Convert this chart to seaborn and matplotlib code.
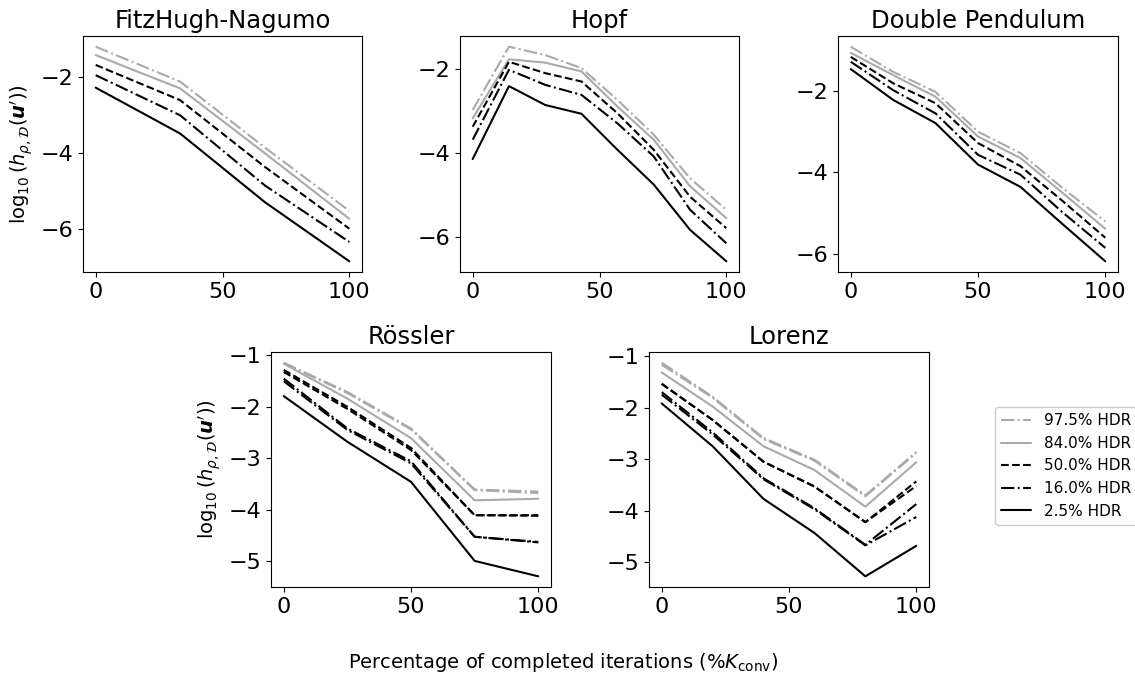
import numpy as np
import pandas as pd
import matplotlib
matplotlib.use("Agg")
import matplotlib.pyplot as plt
import seaborn as sns

sns.set_theme(style="white")
plt.rcParams['font.family'] = ['DejaVu Sans']
plt.rcParams['mathtext.fontset'] = 'dejavusans'
for k in ["text.color", "axes.labelcolor", "xtick.color", "ytick.color", "axes.edgecolor"]:
    plt.rcParams[k] = "black"

levels = ["97.5% HDR", "84.0% HDR", "50.0% HDR", "16.0% HDR", "2.5% HDR"]
level_colors = ["#aaaaaa", "#aaaaaa", "black", "black", "black"]
level_styles = ["-.", "-", "--", "-.", "-"]

# ---- FitzHugh-Nagumo ----
fhn_x = [0, 33.3, 66.7, 100]
fhn_975 = [-1.19, -2.11, -3.85, -5.52]
fhn_840 = [-1.41, -2.29, -4.00, -5.73]
fhn_500 = [-1.67, -2.60, -4.36, -5.99]
fhn_160 = [-1.94, -3.00, -4.85, -6.34]
fhn_025 = [-2.27, -3.48, -5.29, -6.85]

# ---- Hopf ----
hopf_x = [0, 14.3, 28.6, 42.9, 57.1, 71.4, 85.7, 100]
hopf_975 = [-2.98, -1.47, -1.67, -1.98, -2.74, -3.57, -4.61, -5.36]
hopf_840 = [-3.18, -1.77, -1.85, -2.06, -2.90, -3.69, -4.80, -5.56]
hopf_500 = [-3.38, -1.83, -2.10, -2.30, -3.06, -3.93, -5.05, -5.80]
hopf_160 = [-3.69, -2.02, -2.38, -2.62, -3.30, -4.09, -5.36, -6.16]
hopf_025 = [-4.15, -2.41, -2.86, -3.07, -3.93, -4.76, -5.84, -6.59]

# ---- Double Pendulum ----
dp_x = [0, 16.7, 33.3, 50, 66.7, 83.3, 100]
dp_975 = [-0.91, -1.53, -2.02, -3.00, -3.53, -4.39, -5.21]
dp_840 = [-1.06, -1.61, -2.14, -3.12, -3.65, -4.51, -5.39]
dp_500 = [-1.16, -1.81, -2.30, -3.28, -3.85, -4.71, -5.61]
dp_160 = [-1.28, -1.98, -2.55, -3.57, -4.06, -4.99, -5.86]
dp_025 = [-1.46, -2.22, -2.79, -3.81, -4.36, -5.28, -6.19]

# ---- Rössler ----
ros_x = [0, 25, 50, 75, 100]
ros_975 = [-1.14, -1.71, -2.42, -3.61, -3.65]
ros_975b = [-1.15, -1.73, -2.44, -3.62, -3.68]
ros_840 = [-1.16, -1.84, -2.61, -3.82, -3.79]
ros_500 = [-1.32, -2.04, -2.84, -4.11, -4.11]
ros_500b = [-1.28, -2.00, -2.80, -4.11, -4.12]
ros_160 = [-1.50, -2.45, -3.10, -4.53, -4.63]
ros_160b = [-1.45, -2.42, -3.06, -4.53, -4.64]
ros_025 = [-1.79, -2.68, -3.46, -5.00, -5.30]

# ---- Lorenz ----
lor_x = [0, 20, 40, 60, 80, 100]
lor_975 = [-1.13, -1.79, -2.59, -3.01, -3.70, -2.86]
lor_975b = [-1.17, -1.81, -2.61, -3.03, -3.72, -2.88]
lor_840 = [-1.32, -1.98, -2.75, -3.21, -3.92, -3.06]
lor_500 = [-1.54, -2.24, -3.05, -3.53, -4.22, -3.43]
lor_500b = [-1.54, -2.24, -3.05, -3.53, -4.22, -3.52]
lor_160 = [-1.70, -2.48, -3.37, -3.95, -4.66, -3.87]
lor_160b = [-1.75, -2.52, -3.39, -3.97, -4.67, -4.12]
lor_025 = [-1.92, -2.75, -3.77, -4.43, -5.27, -4.68]

panels = [
    ("FitzHugh-Nagumo", fhn_x, [[fhn_975], [fhn_840], [fhn_500], [fhn_160], [fhn_025]]),
    ("Hopf", hopf_x, [[hopf_975], [hopf_840], [hopf_500], [hopf_160], [hopf_025]]),
    ("Double Pendulum", dp_x, [[dp_975], [dp_840], [dp_500], [dp_160], [dp_025]]),
    ("Rössler", ros_x, [[ros_975, ros_975b], [ros_840], [ros_500, ros_500b],
                        [ros_160, ros_160b], [ros_025]]),
    ("Lorenz", lor_x, [[lor_975, lor_975b], [lor_840], [lor_500, lor_500b],
                       [lor_160, lor_160b], [lor_025]]),
]

W, H = 1135, 679
fig = plt.figure(figsize=(W / 100, H / 100), dpi=100)

boxes = [(83, 36, 362, 272), (460, 36, 739, 272), (838, 36, 1118, 272),
         (271, 352, 551, 587), (649, 352, 929, 587)]

ylabel = r"$\log_{10}(h_{\rho,\mathcal{D}}(\boldsymbol{u}'))$"

axes = []
for i, ((title, xs, series), (l, t, r, b)) in enumerate(zip(panels, boxes)):
    ax = fig.add_axes([l / W, 1 - b / H, (r - l) / W, (b - t) / H])
    for lev, c, ls, group in zip(levels, level_colors, level_styles, series):
        for j, ys in enumerate(group):
            df = pd.DataFrame({"x": xs, "y": ys})
            sns.lineplot(data=df, x="x", y="y", ax=ax, color=c, linestyle=ls,
                         linewidth=1.5, label=lev if j == 0 else None,
                         legend=False, estimator=None)
    ax.set_title(title, fontsize=17.5, color="black")
    ax.set_xlabel("")
    ax.set_ylabel(ylabel if i in (0, 3) else "", fontsize=14)
    ax.set_xticks([0, 50, 100])
    ax.tick_params(axis="both", labelsize=16, length=3.5, width=0.8, direction="out",
                   bottom=True, left=True, colors="black")
    for sp in ax.spines.values():
        sp.set_color("black")
        sp.set_linewidth(0.8)
    axes.append(ax)

handles, labels = axes[0].get_legend_handles_labels()
fig.legend(handles, labels, loc="center left",
           bbox_to_anchor=(987 / W, 1 - 466 / H), fontsize=11,
           frameon=True, framealpha=1.0, edgecolor="#cccccc")

fig.text(563 / W, 1 - 663 / H, r"Percentage of completed iterations (%$K_{\mathrm{conv}}$)",
         ha="center", va="center", fontsize=14)

fig.savefig("out.png", dpi=100)
